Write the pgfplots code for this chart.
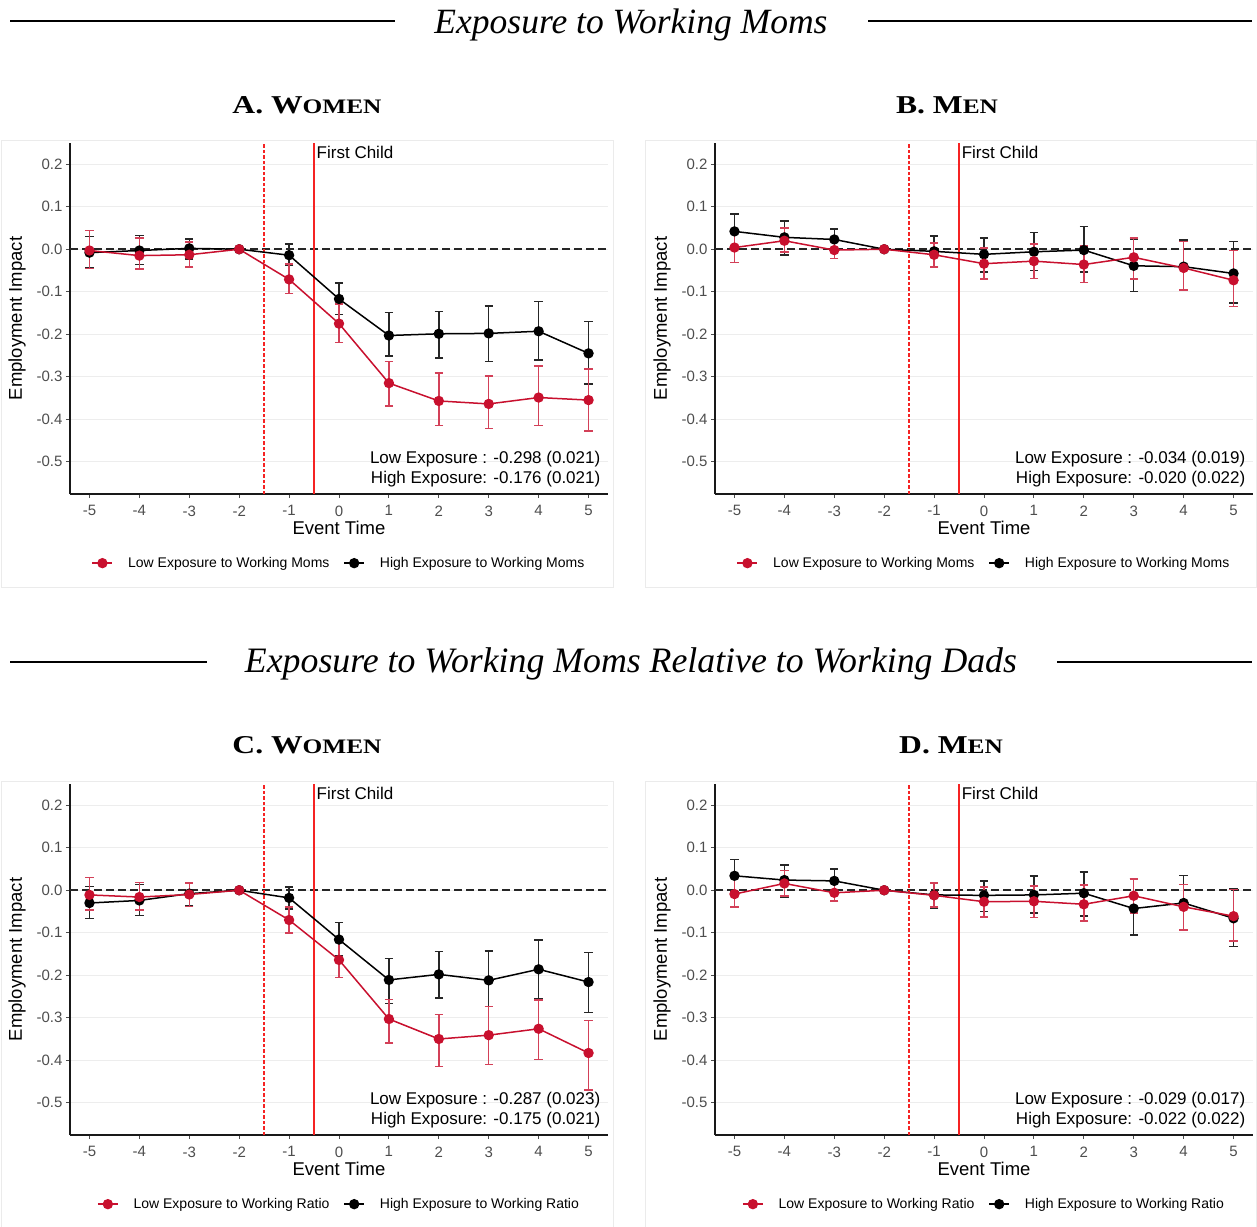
\documentclass[border=0pt]{standalone}
\usepackage{fontspec}
\setmainfont{Liberation Sans}
\newfontfamily\titlefont{Liberation Serif}
\usepackage{graphicx}
\usepackage{pgfplots}
\usepackage{pgfplotstable}
\pgfplotsset{compat=1.18}

\definecolor{crim}{RGB}{200,16,46}
\definecolor{vred}{RGB}{245,35,35}
\definecolor{ticklab}{RGB}{77,77,77}

% t = event time; l* = low exposure (estimate, lower CI, upper CI); h* = high exposure
\pgfplotstableread{
t ly llo lhi hy hlo hhi
-5 -0.003 -0.045 0.044 -0.008 -0.043 0.030
-4 -0.015 -0.046 0.026 -0.003 -0.036 0.032
-3 -0.013 -0.042 0.017 0.002 -0.023 0.024
-2 0 0 0 0 0 0
-1 -0.071 -0.104 -0.035 -0.014 -0.037 0.012
0 -0.175 -0.219 -0.129 -0.117 -0.153 -0.080
1 -0.315 -0.369 -0.264 -0.203 -0.251 -0.149
2 -0.357 -0.415 -0.291 -0.199 -0.256 -0.147
3 -0.364 -0.422 -0.298 -0.198 -0.264 -0.133
4 -0.349 -0.415 -0.275 -0.193 -0.261 -0.123
5 -0.355 -0.428 -0.282 -0.245 -0.317 -0.170
}\tabA
\pgfplotstableread{
t ly llo lhi hy hlo hhi
-5 0.004 -0.031 0.042 0.042 0.001 0.083
-4 0.020 -0.007 0.050 0.028 -0.013 0.066
-3 -0.002 -0.022 0.020 0.023 -0.005 0.048
-2 0 0 0 0 0 0
-1 -0.013 -0.042 0.015 -0.005 -0.041 0.031
0 -0.034 -0.070 0.003 -0.012 -0.053 0.027
1 -0.028 -0.069 0.012 -0.006 -0.050 0.039
2 -0.036 -0.078 0.008 -0.002 -0.053 0.053
3 -0.019 -0.070 0.026 -0.039 -0.100 0.024
4 -0.044 -0.096 0.018 -0.041 -0.097 0.022
5 -0.073 -0.135 -0.003 -0.057 -0.126 0.018
}\tabB
\pgfplotstableread{
t ly llo lhi hy hlo hhi
-5 -0.011 -0.046 0.030 -0.030 -0.067 0.009
-4 -0.016 -0.047 0.018 -0.024 -0.059 0.014
-3 -0.010 -0.038 0.017 -0.008 -0.036 0.016
-2 0 0 0 0 0 0
-1 -0.070 -0.101 -0.039 -0.018 -0.044 0.008
0 -0.164 -0.205 -0.120 -0.116 -0.154 -0.076
1 -0.303 -0.360 -0.257 -0.211 -0.266 -0.161
2 -0.350 -0.415 -0.292 -0.198 -0.254 -0.144
3 -0.341 -0.410 -0.273 -0.212 -0.274 -0.143
4 -0.326 -0.398 -0.258 -0.186 -0.255 -0.117
5 -0.383 -0.470 -0.306 -0.216 -0.288 -0.146
}\tabC
\pgfplotstableread{
t ly llo lhi hy hlo hhi
-5 -0.009 -0.039 0.031 0.034 -0.003 0.072
-4 0.016 -0.013 0.046 0.024 -0.016 0.060
-3 -0.006 -0.025 0.018 0.022 -0.006 0.050
-2 0 0 0 0 0 0
-1 -0.012 -0.039 0.017 -0.011 -0.042 0.016
0 -0.027 -0.063 0.008 -0.012 -0.050 0.022
1 -0.026 -0.064 0.010 -0.011 -0.054 0.034
2 -0.033 -0.072 0.012 -0.007 -0.061 0.043
3 -0.013 -0.054 0.026 -0.043 -0.105 0.026
4 -0.039 -0.094 0.013 -0.030 -0.093 0.035
5 -0.061 -0.120 0.002 -0.066 -0.132 0.003
}\tabD

\pgfplotsset{
  panel/.style={
    scale only axis, width=538pt, height=351pt,
    xmin=-5.39, xmax=5.39, ymin=-0.576, ymax=0.25,
    axis x line*=bottom, axis y line*=left,
    axis line style={black!90, line width=1.2pt},
    xtick={-5,-4,-3,-2,-1,0,1,2,3,4,5},
    ytick={-0.5,-0.4,-0.3,-0.2,-0.1,0,0.1,0.2},
    yticklabel style={/pgf/number format/.cd, fixed, fixed zerofill, precision=1},
    /pgf/number format/assume math mode=true,
    tick label style={font=\fontsize{15}{15}\selectfont, text=ticklab},
    xticklabel style={yshift=-4pt},
    tick style={ticklab, line width=0.9pt},
    tick align=outside, major tick length=4pt,
    ymajorgrids, grid style={black!7, line width=1.3pt},
    xlabel={Event Time}, ylabel={Employment Impact},
    label style={font=\fontsize{18.5}{18.5}\selectfont},
    xlabel style={yshift=2pt},
    ylabel style={yshift=4pt},
    legend columns=2, reverse legend,
    legend style={at={(0.5,-0.197)}, anchor=center, draw=none, fill=none,
      font=\fontsize{14}{14}\selectfont,
      /tikz/every odd column/.append style={column sep=13pt},
      /tikz/every even column/.append style={column sep=12pt}},
    legend image code/.code={\draw[mark repeat=2,mark phase=2] plot coordinates {(0pt,0pt)(10pt,0pt)(20pt,0pt)};},
  },
  hiexp/.style={black, line width=1.5pt, mark=*, mark size=4.4pt, mark options={solid, fill=black},
    error bars/.cd, y dir=both, y explicit,
    error bar style={line width=1.5pt, black!85},
    error mark options={rotate=90, mark size=4.2pt, line width=1.5pt, black!85}},
  loexp/.style={crim, line width=1.5pt, mark=*, mark size=4.4pt, mark options={solid, fill=crim},
    error bars/.cd, y dir=both, y explicit,
    error bar style={line width=1.5pt, crim!80!white},
    error mark options={rotate=90, mark size=4.2pt, line width=1.5pt, crim!80!white}},
}

% #1 x of axis, #2 y of axis bottom, #3 table, #4 low text, #5 high text, #6 legend suffix
\newcommand\drawpanel[6]{%
  \begin{axis}[panel, at={(#1pt,-#2pt)}, anchor=south west]
    \draw[black!85, line width=1.5pt, dash pattern=on 8pt off 4pt] (axis cs:-5.39,0) -- (axis cs:5.39,0);
    \draw[vred, line width=1.4pt, dash pattern=on 3.5pt off 2pt] (axis cs:-1.5,-0.576) -- (axis cs:-1.5,0.25);
    \draw[vred, line width=1.5pt] (axis cs:-0.5,-0.576) -- (axis cs:-0.5,0.25);
    \addplot[hiexp] table[x=t, y=hy, y error plus expr=\thisrow{hhi}-\thisrow{hy}, y error minus expr=\thisrow{hy}-\thisrow{hlo}] {#3};
    \addlegendentry{High Exposure to Working #6}
    \addplot[loexp] table[x=t, y=ly, y error plus expr=\thisrow{lhi}-\thisrow{ly}, y error minus expr=\thisrow{ly}-\thisrow{llo}] {#3};
    \addlegendentry{Low Exposure to Working #6}
    \node[anchor=north west, inner sep=0pt, font=\fontsize{17}{17}\selectfont, xshift=2.5pt, yshift=-3pt] at (axis cs:-0.5,0.25) {First Child};
    \node[anchor=south east, inner sep=0pt, align=right, font=\fontsize{17}{19.6}\selectfont, xshift=-7.5pt, yshift=7pt] at (rel axis cs:1,0) {#4\\#5};
  \end{axis}%
}

\newcommand\paneltitle[1]{\scalebox{1.23}[1]{\titlefont\bfseries\fontsize{25.7}{25.7}\selectfont #1}}
\newcommand\fakesc[2]{#1{\fontsize{20.6}{20.6}\selectfont #2}}

\begin{document}
\begin{tikzpicture}
  \path[use as bounding box] (0pt,0pt) rectangle (1257pt,-1226pt);

  % panel frames
  \draw[black!8, line width=1pt] (1pt,-140pt) rectangle (613pt,-587pt);
  \draw[black!8, line width=1pt] (645pt,-140pt) rectangle (1256pt,-587pt);
  \draw[black!8, line width=1pt] (1pt,-781pt) rectangle (613pt,-1228pt);
  \draw[black!8, line width=1pt] (645pt,-781pt) rectangle (1256pt,-1228pt);

  % section titles
  \draw[line width=2.8pt] (10pt,-21pt) -- (395pt,-21pt);
  \draw[line width=2.8pt] (868pt,-21pt) -- (1252pt,-21pt);
  \node[anchor=base, inner sep=0pt] at (631pt,-33pt) {\resizebox{393pt}{!}{\titlefont\itshape\fontsize{35}{35}\selectfont Exposure to Working Moms}};
  \draw[line width=2.8pt] (10pt,-662pt) -- (207pt,-662pt);
  \draw[line width=2.8pt] (1057pt,-662pt) -- (1252pt,-662pt);
  \node[anchor=base, inner sep=0pt] at (631pt,-672pt) {\resizebox{772pt}{!}{\titlefont\itshape\fontsize{35}{35}\selectfont Exposure to Working Moms Relative to Working Dads}};

  % panel titles
  \node[anchor=base, inner sep=0pt] at (307pt,-113pt) {\paneltitle{A. \fakesc{W}{OMEN}}};
  \node[anchor=base, inner sep=0pt] at (947pt,-113pt) {\paneltitle{B. \fakesc{M}{EN}}};
  \node[anchor=base, inner sep=0pt] at (307pt,-753pt) {\paneltitle{C. \fakesc{W}{OMEN}}};
  \node[anchor=base, inner sep=0pt] at (951pt,-753pt) {\paneltitle{D. \fakesc{M}{EN}}};

  \drawpanel{70}{494}{\tabA}{Low Exposure : -0.298 (0.021)}{High Exposure: -0.176 (0.021)}{Moms}
  \drawpanel{715}{494}{\tabB}{Low Exposure : -0.034 (0.019)}{High Exposure: -0.020 (0.022)}{Moms}
  \drawpanel{70}{1135}{\tabC}{Low Exposure : -0.287 (0.023)}{High Exposure: -0.175 (0.021)}{Ratio}
  \drawpanel{715}{1135}{\tabD}{Low Exposure : -0.029 (0.017)}{High Exposure: -0.022 (0.022)}{Ratio}
\end{tikzpicture}
\end{document}
